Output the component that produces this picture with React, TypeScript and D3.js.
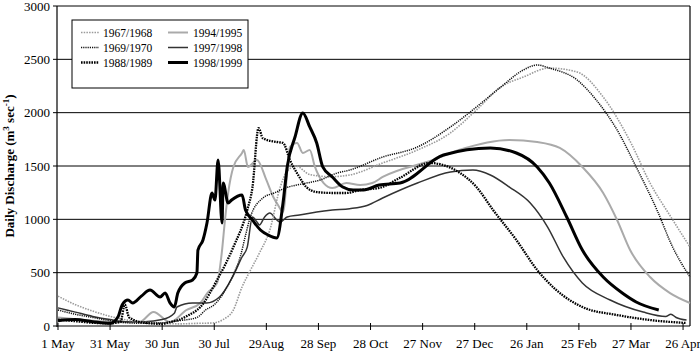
import React from "react";
import * as d3 from "d3";

// X tick labels (every 30 days from 1 May)
const tickLabels = ["1 May", "31 May", "30 Jun", "30 Jul", "29Aug", "28 Sep", "28 Oct", "27 Nov", "27 Dec", "26 Jan", "25 Feb", "27 Mar", "26 Apr"];
const tickDays = [0, 30, 60, 90, 120, 150, 180, 210, 240, 270, 300, 330, 360];
const yTicks = [0, 500, 1000, 1500, 2000, 2500, 3000];

// 1967/1968
const days6768 = [0, 10, 20, 30, 40, 50, 60, 70, 80, 89, 95, 101, 106, 110, 116, 122, 128, 132, 137, 145, 157, 168, 187, 207, 226, 241, 255, 268, 283, 299, 314, 330, 341, 353, 364];
const q6768 = [280, 200, 140, 90, 55, 35, 25, 20, 25, 28, 60, 150, 366, 497, 684, 900, 1303, 1450, 1500, 1420, 1400, 1416, 1528, 1650, 1810, 2025, 2240, 2334, 2418, 2381, 2147, 1716, 1340, 1022, 740];

// 1969/1970
const days6970 = [0, 10, 20, 30, 40, 50, 60, 70, 80, 85, 90, 95, 100, 105, 108, 110.6, 118, 125, 132, 140, 151, 160, 168, 187, 207, 226, 241, 255, 268, 276, 283, 299, 310, 322, 333, 345, 354, 364];
const q6970 = [150, 110, 80, 50, 30, 25, 30, 50, 80, 150, 200, 300, 450, 650, 850, 1012, 1200, 1250, 1300, 1330, 1369, 1430, 1462, 1584, 1678, 1866, 2053, 2240, 2400, 2447, 2418, 2306, 2119, 1838, 1491, 1087, 740, 459];

// 1988/1989
const days8889 = [0, 10, 20, 30, 36, 38.5, 41, 50, 60, 65, 70, 75, 82, 91.6, 101, 109, 112, 115.5, 118, 126, 129.6, 133.6, 139, 143, 149, 158, 166, 174, 185, 197, 214, 231.6, 241, 250.6, 264, 276, 287, 302, 322, 341, 362];
const q8889 = [60, 45, 30, 25, 40, 200, 80, 30, 20, 40, 60, 100, 178, 431, 740, 1087, 1300, 1856, 1760, 1725, 1716, 1556, 1397, 1303, 1256, 1247, 1247, 1275, 1294, 1390, 1528, 1434, 1303, 1087, 806, 525, 337, 178, 103, 56, 28];

// 1994/1995
const days9495 = [0, 20, 40, 47, 55, 64.5, 74, 82, 86, 91.6, 94.5, 96, 98, 101, 106, 107, 109.4, 114.6, 120, 124, 126.7, 129.6, 133.6, 137.7, 141, 145, 148, 153, 158, 166, 174, 181, 187, 216, 231, 260, 276, 289, 302, 314, 322, 329.5, 341, 352.5, 364];
const q9495 = [80, 50, 35, 37, 131, 37, 150, 216, 309, 403, 712, 965, 1247, 1491, 1622, 1650, 1491, 1556, 1369, 1209, 1134, 1069, 1678, 1716, 1622, 1650, 1491, 1340, 1294, 1340, 1322, 1340, 1397, 1556, 1650, 1744, 1725, 1669, 1491, 1247, 994, 712, 459, 309, 216];

// 1997/1998
const days9798 = [0, 10, 20, 30, 40, 50, 60, 67, 68.5, 77.5, 85.5, 93, 100.5, 106, 109, 112, 114.6, 116, 119, 122, 126, 128, 132, 139, 149, 158, 168, 178, 187, 207, 226, 239, 249, 260, 272, 282, 291, 302, 318, 337, 350, 353, 356, 362];
const q9798 = [170, 130, 90, 60, 40, 40, 60, 120, 178, 216, 216, 272, 459, 647, 740, 1022, 975, 947, 1022, 1059, 994, 975, 1022, 1040, 1069, 1087, 1100, 1130, 1200, 1340, 1444, 1462, 1416, 1303, 1153, 928, 647, 403, 244, 131, 90, 110, 80, 56];

// 1998/1999
const days9899 = [0, 10, 20, 30, 34.6, 37, 40.3, 43, 48, 53, 58.8, 61.7, 64.5, 67, 69, 73, 77.5, 80, 80.6, 83.5, 85.8, 88.7, 90.4, 92.2, 94.5, 95.1, 98, 100, 106, 108, 112, 116.6, 121, 126, 129.6, 132, 136.5, 141, 145, 149, 152.5, 158, 164, 170, 176, 185, 197, 222, 249, 264, 276, 283, 293, 302, 314, 325, 333, 346];
const q9899 = [50, 60, 40, 25, 87, 200, 244, 216, 280, 337, 272, 309, 216, 178, 309, 403, 431, 497, 712, 806, 965, 1247, 1181, 1556, 965, 1340, 1153, 1181, 1228, 1087, 994, 900, 853, 825, 1153, 1491, 1772, 1997, 1866, 1716, 1491, 1397, 1303, 1275, 1275, 1322, 1340, 1603, 1669, 1622, 1491, 1340, 1022, 712, 459, 309, 225, 150];

const seriesNames = ["1967/1968", "1969/1970", "1988/1989", "1994/1995", "1997/1998", "1998/1999"];
const seriesDays = [days6768, days6970, days8889, days9495, days9798, days9899];
const seriesVals = [q6768, q6970, q8889, q9495, q9798, q9899];

const styles = [
  { stroke: "#9a9a9a", width: 1.6, dash: "1.5 1.2" },
  { stroke: "#111", width: 1.5, dash: "1.2 1" },
  { stroke: "#000", width: 2.3, dash: "1.6 1" },
  { stroke: "#aaaaaa", width: 2, dash: "" },
  { stroke: "#333", width: 1.5, dash: "" },
  { stroke: "#000", width: 3, dash: "" },
];

export default function App() {
  const W = 700, H = 354;
  const L = 57, R = 690, T = 6, B = 326;
  const x = d3.scaleLinear().domain([0, 364]).range([58, 690]);
  const y = d3.scaleLinear().domain([0, 3000]).range([B, T]);
  const font = "'Liberation Serif', 'Times New Roman', serif";

  const line = d3
    .line<[number, number]>()
    .x((d) => x(d[0]))
    .y((d) => y(d[1]))
    .curve(d3.curveMonotoneX);

  const drawOrder = [3, 4, 0, 1, 2, 5];

  return (
    <svg
      width={W}
      height={H}
      style={{ position: "absolute", left: 0, top: 0, background: "#fff" }}
      fontFamily={font}
    >
      <rect x={0} y={0} width={W} height={H} fill="#fff" />
      {/* gridlines */}
      {yTicks.map((t) => (
        <line key={"g" + t} x1={L} x2={R} y1={y(t)} y2={y(t)} stroke="#000" strokeWidth={1} />
      ))}
      {/* right border */}
      <line x1={R} x2={R} y1={T} y2={B} stroke="#000" strokeWidth={1.2} />
      {/* left axis */}
      <line x1={L} x2={L} y1={T} y2={B + 1} stroke="#000" strokeWidth={1.2} />
      {yTicks.map((t) => (
        <g key={"yt" + t}>
          <line x1={L - 4} x2={L} y1={y(t)} y2={y(t)} stroke="#000" />
          <text x={L - 7} y={y(t) + 4.5} fontSize={13} textAnchor="end" fill="#000">
            {t}
          </text>
        </g>
      ))}
      {/* x ticks */}
      {tickDays.map((d, i) => (
        <g key={"xt" + d}>
          <line x1={x(d)} x2={x(d)} y1={B - 3} y2={B + 4} stroke="#000" />
          <text x={x(d)} y={348} fontSize={13} textAnchor="middle" fill="#000">
            {tickLabels[i]}
          </text>
        </g>
      ))}
      {/* y label */}
      <text
        transform={`translate(14,166) rotate(-90)`}
        textAnchor="middle"
        fontSize={13}
        fontWeight="bold"
        fill="#000"
      >
        Daily Discharge (m<tspan fontSize={9} dy={-5}>3</tspan>
        <tspan dy={5}> sec</tspan>
        <tspan fontSize={9} dy={-5}>-1</tspan>
        <tspan dy={5}>)</tspan>
      </text>
      {/* series */}
      {drawOrder.map((i) => {
        const pts = seriesDays[i].map((d, k) => [d, seriesVals[i][k]] as [number, number]);
        const s = styles[i];
        return (
          <path
            key={seriesNames[i]}
            d={line(pts) || ""}
            fill="none"
            stroke={s.stroke}
            strokeWidth={s.width}
            strokeDasharray={s.dash || undefined}
            strokeLinejoin="round"
          />
        );
      })}
      {/* legend */}
      <rect x={72} y={20} width={176} height={68} fill="#fff" stroke="#000" strokeWidth={1} />
      {seriesNames.map((n, i) => {
        const col = i < 3 ? 0 : 1;
        const row = i % 3;
        const lx = col === 0 ? 81 : 168;
        const lw = col === 0 ? 18 : 20;
        const tx = col === 0 ? 103 : 193;
        const ly = 32.5 + row * 15;
        const s = styles[i];
        return (
          <g key={"lg" + n}>
            <line
              x1={lx}
              x2={lx + lw}
              y1={ly}
              y2={ly}
              stroke={s.stroke}
              strokeWidth={s.width}
              strokeDasharray={s.dash || undefined}
            />
            <text x={tx} y={ly + 4} fontSize={11.5} fill="#000">
              {n}
            </text>
          </g>
        );
      })}
    </svg>
  );
}
